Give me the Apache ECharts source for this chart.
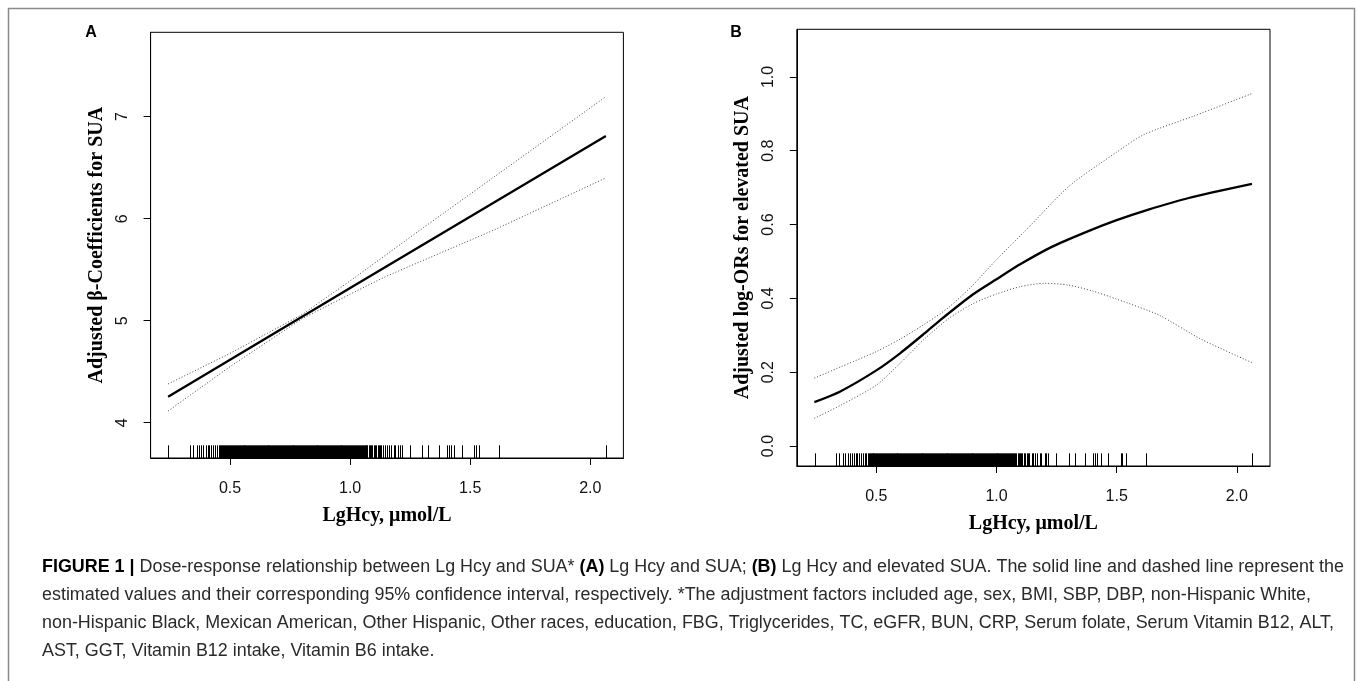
<!DOCTYPE html>
<html>
<head>
<meta charset="utf-8">
<script src="https://cdn.jsdelivr.net/npm/echarts@6.0.0/dist/echarts.min.js"></script>
<style>
html,body{margin:0;padding:0;background:#fff;}
#chart{width:1357px;height:681px;}
</style>
</head>
<body>
<div id="chart"></div>
<script>
// ---------- data ----------
const xTicks = [0.5, 1.0, 1.5, 2.0];
const yTicksA = [4, 5, 6, 7];
const yTicksB = [0.0, 0.2, 0.4, 0.6, 0.8, 1.0];

// Panel A: adjusted beta-coefficients for SUA
const estA  = [[0.242,4.255],[1.0,5.32],[2.065,6.81]];
const upperA = [[0.242,4.38],[0.5,4.68],[0.8,5.06],[1.0,5.39],[1.304,5.91],[1.6,6.41],[2.065,7.196]];
const lowerA = [[0.242,4.115],[0.5,4.55],[0.8,5.02],[1.0,5.26],[1.15,5.435],[1.6,5.89],[2.065,6.40]];

// Panel B: adjusted log-ORs for elevated SUA
const estB = [[0.242,0.119],[0.35,0.148],[0.5,0.205],[0.6,0.252],[0.7,0.305],[0.767,0.342],[0.9,0.41],[1.0,0.452],[1.1,0.493],[1.228,0.539],[1.377,0.581],[1.5,0.612],[1.629,0.640],[1.8,0.672],[2.063,0.710]];
const upperB = [[0.242,0.184],[0.35,0.214],[0.5,0.256],[0.6,0.29],[0.7,0.33],[0.8,0.375],[0.9,0.435],[1.0,0.505],[1.124,0.586],[1.302,0.704],[1.495,0.794],[1.614,0.844],[1.821,0.894],[2.063,0.955]];
const lowerB = [[0.242,0.075],[0.35,0.11],[0.5,0.165],[0.6,0.225],[0.7,0.29],[0.8,0.345],[0.9,0.385],[1.0,0.412],[1.1,0.432],[1.2,0.441],[1.3,0.436],[1.4,0.42],[1.5,0.398],[1.675,0.355],[1.85,0.29],[2.063,0.226]];

// Rug of observed LgHcy values
const rugX = [
 0.243, 0.334, 0.345, 0.361, 0.371, 0.380, 0.389, 0.400, 0.407, 0.414, 0.421, 0.428, 0.436, 0.444, 0.452, 0.459, 0.464,
 0.468, 0.472, 0.476, 0.480, 0.484, 0.488, 0.492, 0.496, 0.500, 0.504, 0.508, 0.512, 0.516, 0.520, 0.524, 0.528, 0.532, 0.536, 0.540, 0.544,
 0.548, 0.552, 0.556, 0.560, 0.564, 0.568, 0.572, 0.576, 0.580, 0.584, 0.588, 0.592, 0.596, 0.600, 0.604, 0.608, 0.612, 0.616, 0.620, 0.624,
 0.628, 0.632, 0.636, 0.640, 0.644, 0.648, 0.652, 0.656, 0.660, 0.664, 0.668, 0.672, 0.676, 0.680, 0.684, 0.688, 0.692, 0.696, 0.700, 0.704,
 0.708, 0.712, 0.716, 0.720, 0.724, 0.728, 0.732, 0.736, 0.740, 0.744, 0.748, 0.752, 0.756, 0.760, 0.764, 0.768, 0.772, 0.776, 0.780, 0.784,
 0.788, 0.792, 0.796, 0.800, 0.804, 0.808, 0.812, 0.816, 0.820, 0.824, 0.828, 0.832, 0.836, 0.840, 0.844, 0.848, 0.852, 0.856, 0.860, 0.864,
 0.868, 0.872, 0.876, 0.880, 0.884, 0.888, 0.892, 0.896, 0.900, 0.904, 0.908, 0.912, 0.916, 0.920, 0.924, 0.928, 0.932, 0.936, 0.940, 0.944,
 0.948, 0.952, 0.956, 0.960, 0.964, 0.968, 0.972, 0.976, 0.980, 0.984, 0.988, 0.992, 0.996, 1.000, 1.004, 1.008, 1.012, 1.016, 1.020, 1.024,
 1.028, 1.032, 1.036, 1.040, 1.044, 1.048, 1.052, 1.056, 1.060, 1.064,
 1.068, 1.072, 1.078, 1.083, 1.088, 1.093, 1.098, 1.103, 1.108, 1.114, 1.120, 1.125, 1.130, 1.135, 1.146, 1.152, 1.162, 1.170, 1.181, 1.187,
 1.201, 1.208, 1.214, 1.248, 1.301, 1.325, 1.370, 1.403, 1.410, 1.420, 1.433, 1.464, 1.516, 1.523, 1.537, 1.620, 2.065
];

const xNameText = 'LgHcy, μmol/L';
const yNameA = 'Adjusted β-Coefficients for SUA';
const yNameB = 'Adjusted log-ORs for elevated SUA';
const panelLabels = ['A', 'B'];
const captionLines = [
 '{b|FIGURE 1 |} Dose-response relationship between Lg Hcy and SUA* {b|(A)} Lg Hcy and SUA; {b|(B)} Lg Hcy and elevated SUA. The solid line and dashed line represent the',
 'estimated values and their corresponding 95% confidence interval, respectively. *The adjustment factors included age, sex, BMI, SBP, DBP, non-Hispanic White,',
 'non-Hispanic Black, Mexican American, Other Hispanic, Other races, education, FBG, Triglycerides, TC, eGFR, BUN, CRP, Serum folate, Serum Vitamin B12, ALT,',
 'AST, GGT, Vitamin B12 intake, Vitamin B6 intake.'
];

// ---------- layout / style ----------
const X_MIN = 0.169, X_MAX = 2.138;
const A_YMIN = 3.654, A_YMAX = 7.827;
const B_YMIN = -0.054, B_YMAX = 1.129;
const RUG_LEN = 12.7;
const SANS = 'Liberation Sans, Arial, sans-serif';
const SERIF = 'Liberation Serif, Times New Roman, serif';

// caption font size fit
const capFam = '"Liberation Sans Narrow", "Liberation Sans", sans-serif';
const mctx = document.createElement('canvas').getContext('2d');
mctx.font = '100px ' + capFam;
const plain1 = captionLines[0].replace(/\{b\|([^}]*)\}/g, '$1');
const capSize = Math.min(20, 100 * 1300 / mctx.measureText(plain1).width);

function xAxisCfg(gi) {
  return {
    type: 'value', gridIndex: gi, min: X_MIN, max: X_MAX,
    axisLine: { show: true, onZero: false, lineStyle: { color: '#000', width: 1 } },
    splitLine: { show: false },
    axisTick: { show: true, length: 7, customValues: xTicks, lineStyle: { color: '#000', width: 1 } },
    axisLabel: { customValues: xTicks, formatter: v => v.toFixed(1), margin: 23, fontSize: 16, color: '#111', fontFamily: SANS },
    name: xNameText, nameLocation: 'middle', nameGap: 48,
    nameTextStyle: { fontFamily: SERIF, fontWeight: 'bold', fontSize: 20, color: '#000' }
  };
}
function yAxisCfg(gi, mn, mx, ticks, fmt, name) {
  return {
    type: 'value', gridIndex: gi, min: mn, max: mx,
    axisLine: { show: true, onZero: false, lineStyle: { color: '#000', width: 1 } },
    splitLine: { show: false },
    axisTick: { show: true, length: 7, customValues: ticks, lineStyle: { color: '#000', width: 1 } },
    axisLabel: { customValues: ticks, formatter: fmt, rotate: 90, margin: 20, fontSize: 16, color: '#111', fontFamily: SANS },
    name: name, nameLocation: 'middle', nameGap: 44, nameRotate: 90,
    nameTextStyle: { fontFamily: SERIF, fontWeight: 'bold', fontSize: 20, color: '#000' }
  };
}
function lineSeries(data, xi, kind, smooth) {
  const solid = kind === 'est';
  return {
    type: 'line', xAxisIndex: xi, yAxisIndex: xi, data: data,
    showSymbol: false, symbol: 'none', smooth: smooth ? 0.25 : false,
    lineStyle: solid ? { color: '#000', width: 2.3 } : { color: '#444', width: 1, type: [1, 2] },
    silent: true, animation: false, z: solid ? 3 : 2
  };
}
function rugSeries(xi, ymin) {
  return {
    type: 'custom', xAxisIndex: xi, yAxisIndex: xi, silent: true, animation: false,
    data: rugX.map(v => [v, ymin]),
    renderItem: (params, api) => {
      const p = api.coord([api.value(0), ymin]);
      const px = Math.round(p[0]) + 0.5;
      return { type: 'line', shape: { x1: px, y1: p[1], x2: px, y2: p[1] - RUG_LEN },
               style: { stroke: '#000', lineWidth: 1 } };
    }
  };
}

const chart = echarts.init(document.getElementById('chart'), null, { renderer: 'canvas' });
const option = {
  animation: false,
  backgroundColor: '#fff',
  grid: [
    { left: 150.6, top: 32.3, width: 472.8, height: 425.7, show: true, borderColor: '#000', borderWidth: 1, backgroundColor: 'transparent' },
    { left: 796.8, top: 29.3, width: 473.2, height: 436.7, show: true, borderColor: '#000', borderWidth: 1, backgroundColor: 'transparent' }
  ],
  xAxis: [xAxisCfg(0), xAxisCfg(1)],
  yAxis: [
    yAxisCfg(0, A_YMIN, A_YMAX, yTicksA, v => String(Math.round(v)), yNameA),
    yAxisCfg(1, B_YMIN, B_YMAX, yTicksB, v => v.toFixed(1), yNameB)
  ],
  series: [
    rugSeries(0, A_YMIN),
    lineSeries(upperA, 0, 'ci', false),
    lineSeries(lowerA, 0, 'ci', false),
    lineSeries(estA, 0, 'est', false),
    rugSeries(1, B_YMIN),
    lineSeries(upperB, 1, 'ci', true),
    lineSeries(lowerB, 1, 'ci', true),
    lineSeries(estB, 1, 'est', true)
  ],
  graphic: [
    { type: 'rect', silent: true, shape: { x: 8.5, y: 8.5, width: 1346, height: 700 },
      style: { fill: 'none', stroke: '#8a8a8a', lineWidth: 1.5 } },
    { type: 'text', silent: true, x: 91, y: 33,
      style: { text: panelLabels[0], fontFamily: SANS, fontWeight: 'bold', fontSize: 16, fill: '#000', align: 'center', verticalAlign: 'middle' } },
    { type: 'text', silent: true, x: 736, y: 33,
      style: { text: panelLabels[1], fontFamily: SANS, fontWeight: 'bold', fontSize: 16, fill: '#000', align: 'center', verticalAlign: 'middle' } }
  ].concat(captionLines.map((t, i) => ({
    type: 'text', silent: true, x: 42, y: 567 + i * 28,
    style: { text: t, fontFamily: capFam, fontSize: capSize, fill: '#2a2a2a', align: 'left', verticalAlign: 'middle',
             rich: { b: { fontFamily: capFam, fontSize: capSize, fontWeight: 'bold', fill: '#000' } } }
  })))
};
chart.setOption(option);
</script>
</body>
</html>
